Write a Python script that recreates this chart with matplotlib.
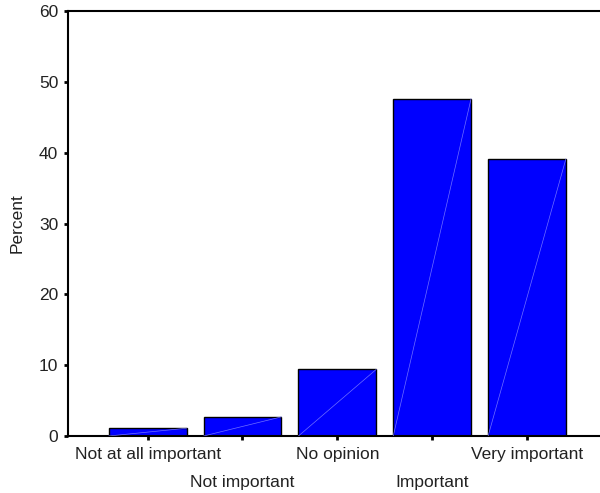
import matplotlib
matplotlib.use("Agg")
import matplotlib.pyplot as plt
import matplotlib.transforms as mtransforms

categories = ["Not at all important", "Not important", "No opinion", "Important", "Very important"]
percent = [1.1, 2.7, 9.4, 47.6, 39.1]
yticks = [0, 10, 20, 30, 40, 50, 60]

plt.rcParams['font.family'] = ['Liberation Sans', 'DejaVu Sans']

fig = plt.figure(figsize=(6.0, 4.93), dpi=100)
ax = fig.add_axes([68/600, 1 - 436/493, 1 - 68/600, 425/493])

x = list(range(len(categories)))
w = 0.82
ax.bar(x, percent, width=w, color='#0000ff', edgecolor='black', linewidth=1.0, zorder=2)
for xi, h in zip(x, percent):
    ax.plot([xi - w/2, xi + w/2], [0, h], color='#7070ff', linewidth=0.5, zorder=3)

ax.set_xlim(-0.84, 4.77)
ax.set_ylim(0, 60)
ax.set_yticks(yticks)
ax.set_yticklabels([str(t) for t in yticks], fontsize=12.5, color='#222222')
ax.set_xticks(x)
ax.set_xticklabels(categories, fontsize=12.5, color='#222222')
ax.tick_params(axis='both', direction='out', length=3, width=2, color='black')
ax.tick_params(axis='x', pad=5)
ax.tick_params(axis='y', pad=4)
shift = mtransforms.ScaledTranslation(0, -0.28, fig.dpi_scale_trans)
for i, lab in enumerate(ax.get_xticklabels()):
    if i % 2 == 1:
        lab.set_transform(lab.get_transform() + shift)
ax.set_ylabel("Percent", fontsize=12.5, labelpad=10, color='#222222')

ax.spines['right'].set_visible(False)
for s in ['left', 'top', 'bottom']:
    ax.spines[s].set_linewidth(1.5)
    ax.spines[s].set_color('black')

fig.savefig("out.png", dpi=100)
